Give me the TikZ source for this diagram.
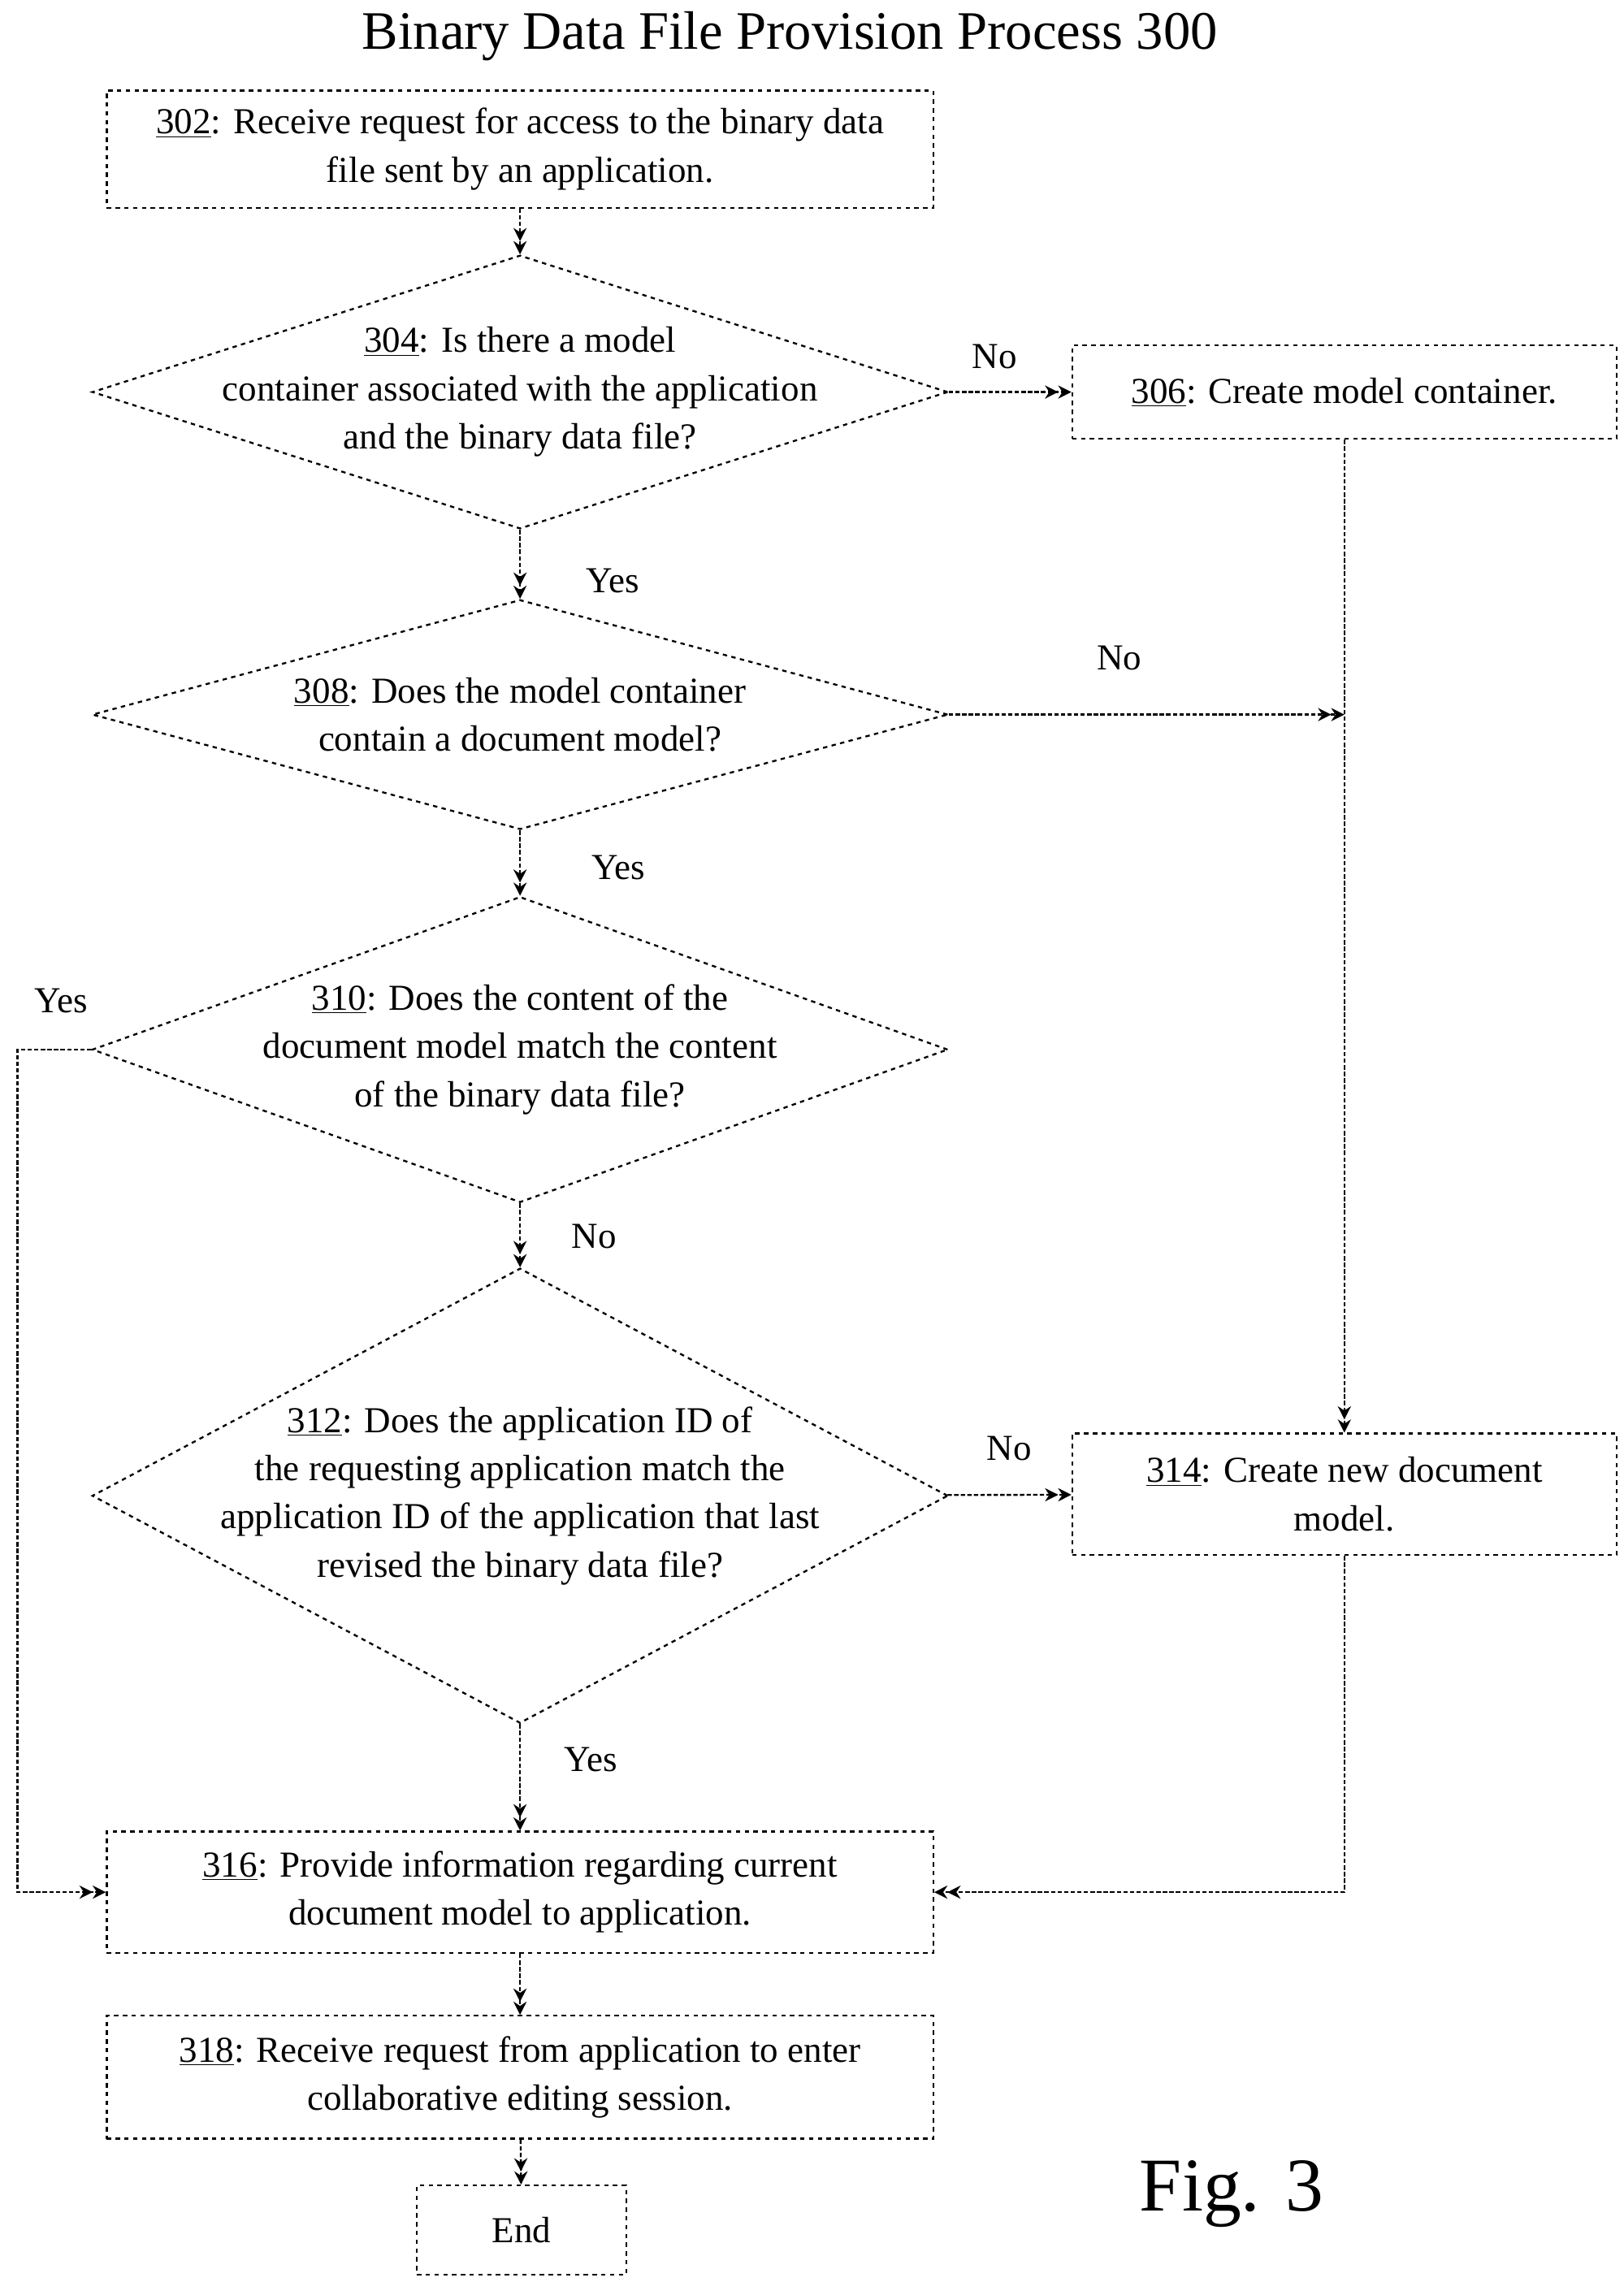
\documentclass[tikz,border=0pt]{standalone}
\usepackage{fontspec}
\setmainfont{Liberation Serif}
\usetikzlibrary{positioning,shapes,arrows,arrows.meta}
\tikzstyle{process} = [rectangle, text centered, align=center, draw=black, dashed]
\tikzstyle{decision} = [diamond, draw=black, dashed, inner sep=0pt]
\tikzstyle{arrow} = [-{Stealth[length=9pt,width=9pt]Stealth[length=9pt,width=9pt]}, dash pattern=on 3pt off 1.5pt]
\tikzstyle{lbl} = [font=\fontsize{25}{33}\selectfont]
\begin{document}
\begin{tikzpicture}[x=1pt,y=-1pt,line width=1.3pt,dash pattern=on 4pt off 2pt,
  every node/.style={font=\fontsize{25}{33}\selectfont}]
	\useasboundingbox (0,0) rectangle (1110,1560);
	\node (title) at (540,25) [font=\fontsize{37}{40}\selectfont] {Binary Data File Provision Process 300};
	\node (s302) [process,minimum width=565pt,minimum height=80pt] at (355.5,102) {\underline{302}: Receive request for access to the binary data\\file sent by an application.};
	\node (d304) [decision,minimum width=585pt,minimum height=187pt] at (355.5,268) {};
	\node (t304) [align=center] at (d304) {\underline{304}: Is there a model\\container associated with the application\\and the binary data file?};
	\node (s306) [process,minimum width=372pt,minimum height=64pt] at (919,268) {\underline{306}: Create model container.};
	\node (d308) [decision,minimum width=585pt,minimum height=157pt] at (355.5,488.5) {};
	\node (t308) [align=center] at (d308) {\underline{308}: Does the model container\\contain a document model?};
	\node (d310) [decision,minimum width=585pt,minimum height=209pt] at (355.5,717.5) {};
	\node (t310) [align=center] at (d310) {\underline{310}: Does the content of the\\document model match the content\\of the binary data file?};
	\node (d312) [decision,minimum width=585pt,minimum height=311pt] at (355.5,1022.5) {};
	\node (t312) [align=center] at (d312) {\underline{312}: Does the application ID of\\the requesting application match the\\application ID of the application that last\\revised the binary data file?};
	\node (s314) [process,minimum width=372pt,minimum height=83pt] at (919,1021.5) {\underline{314}: Create new document\\model.};
	\node (s316) [process,minimum width=565pt,minimum height=83pt] at (355.5,1293.5) {\underline{316}: Provide information regarding current\\document model to application.};
	\node (s318) [process,minimum width=565pt,minimum height=84pt] at (355.5,1420) {\underline{318}: Receive request from application to enter\\collaborative editing session.};
	\node (end) [process,minimum width=143pt,minimum height=61pt] at (356.5,1524.5) {End};
	\node (fig) at (842,1500) [font=\fontsize{52}{56}\selectfont] {Fig. 3};

	\coordinate (j308) at (919,488.5);
	\coordinate (c310) at (12,717.5);

	\draw [arrow] (s302) -- (d304);
	\draw [arrow] (d304) -- (s306);
	\draw [arrow] (s306) -- (s314);
	\draw [arrow] (d304) -- (d308);
	\draw [arrow] (d308) -- (j308);
	\draw [arrow] (d308) -- (d310);
	\draw [arrow] (d310.west) -- (c310) |- (s316.west);
	\draw [arrow] (d310) -- (d312);
	\draw [arrow] (d312) -- (s314);
	\draw [arrow] (d312) -- (s316);
	\draw [arrow] (s314) |- (s316.east);
	\draw [arrow] (s316) -- (s318);
	\draw [arrow] (s318) -- (end);

	\node (no304) at (680,244) {No};
	\node (yes304) at (419,397) {Yes};
	\node (no308) at (765,450) {No};
	\node (yes308) at (423,593) {Yes};
	\node (yes310) at (42,684) {Yes};
	\node (no310) at (406,845) {No};
	\node (no312) at (690,990) {No};
	\node (yes312) at (404,1203) {Yes};
\end{tikzpicture}
\end{document}
